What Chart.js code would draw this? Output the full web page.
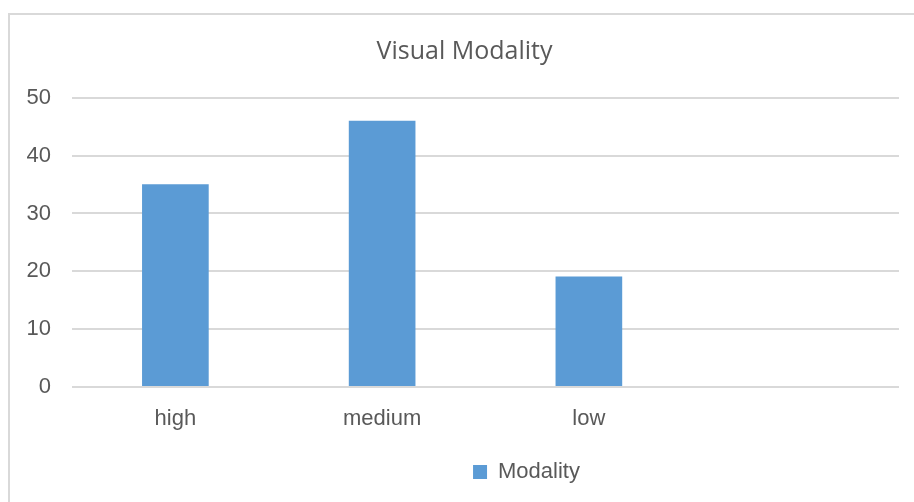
<!DOCTYPE html>
<html>
<head>
<meta charset="utf-8">
<script src="https://cdn.jsdelivr.net/npm/chart.js@4/dist/chart.umd.min.js"></script>
<style>
  html, body { margin: 0; padding: 0; background: #fff; overflow: hidden; }
  #frame {
    position: absolute; left: 8px; top: 13px;
    width: 940px; height: 520px;
    border: 2px solid #d9d9d9;
  }
  #wrap { position: absolute; left: 0; top: 0; width: 914px; height: 502px; }
</style>
</head>
<body>
<div id="frame"></div>
<div id="wrap"><canvas id="chart"></canvas></div>
<script>
// Chart values
const categories = ['high', 'medium', 'low', ''];
const modalityValues = [35, 46, 19, null];
const yTicks = [0, 10, 20, 30, 40, 50];

const textColor = '#595959';
const gridColor = '#d9d9d9';
const barColor = '#5b9bd5';

// title and legend in the reference sit right of the canvas centre
const blockShift = {
  id: 'blockShift',
  afterLayout(chart) {
    const lg = chart.legend;
    if (lg) {
      lg.left += 77;
      lg.right += 77;
    }
    const tb = chart.titleBlock;
    if (tb) {
      tb.left += 15;
      tb.right += 15;
    }
  }
};

const ctx = document.getElementById('chart').getContext('2d');

new Chart(ctx, {
  type: 'bar',
  data: {
    labels: categories,
    datasets: [{
      label: 'Modality',
      data: modalityValues,
      backgroundColor: barColor,
      borderWidth: 0,
      barThickness: 66,
      categoryPercentage: 1.0
    }]
  },
  options: {
    responsive: true,
    maintainAspectRatio: false,
    animation: false,
    layout: {
      padding: { left: 0, right: 15, top: 0, bottom: 9 }
    },
    scales: {
      x: {
        grid: { display: false, drawTicks: false },
        border: { display: false },
        ticks: {
          color: textColor,
          font: { family: 'Liberation Sans', size: 22 },
          padding: 19
        }
      },
      y: {
        min: 0,
        max: 50,
        afterBuildTicks: (scale) => {
          scale.ticks = yTicks.map(v => ({ value: v }));
        },
        afterFit: (scale) => { scale.width = 72; },
        grid: { color: gridColor, lineWidth: 2, drawTicks: false },
        border: { display: false },
        ticks: {
          color: textColor,
          font: { family: 'Liberation Sans', size: 22 },
          padding: 21
        }
      }
    },
    plugins: {
      title: {
        display: true,
        text: 'Visual Modality',
        color: textColor,
        font: { family: 'Open Sans', size: 25, weight: 'normal' },
        padding: { top: 37, bottom: 31 }
      },
      legend: {
        display: true,
        position: 'bottom',
        labels: {
          color: textColor,
          font: { family: 'Liberation Sans', size: 22 },
          boxWidth: 14,
          boxHeight: 14,
          padding: 10
        }
      },
      tooltip: { enabled: false }
    }
  },
  plugins: [blockShift]
});
</script>
</body>
</html>
